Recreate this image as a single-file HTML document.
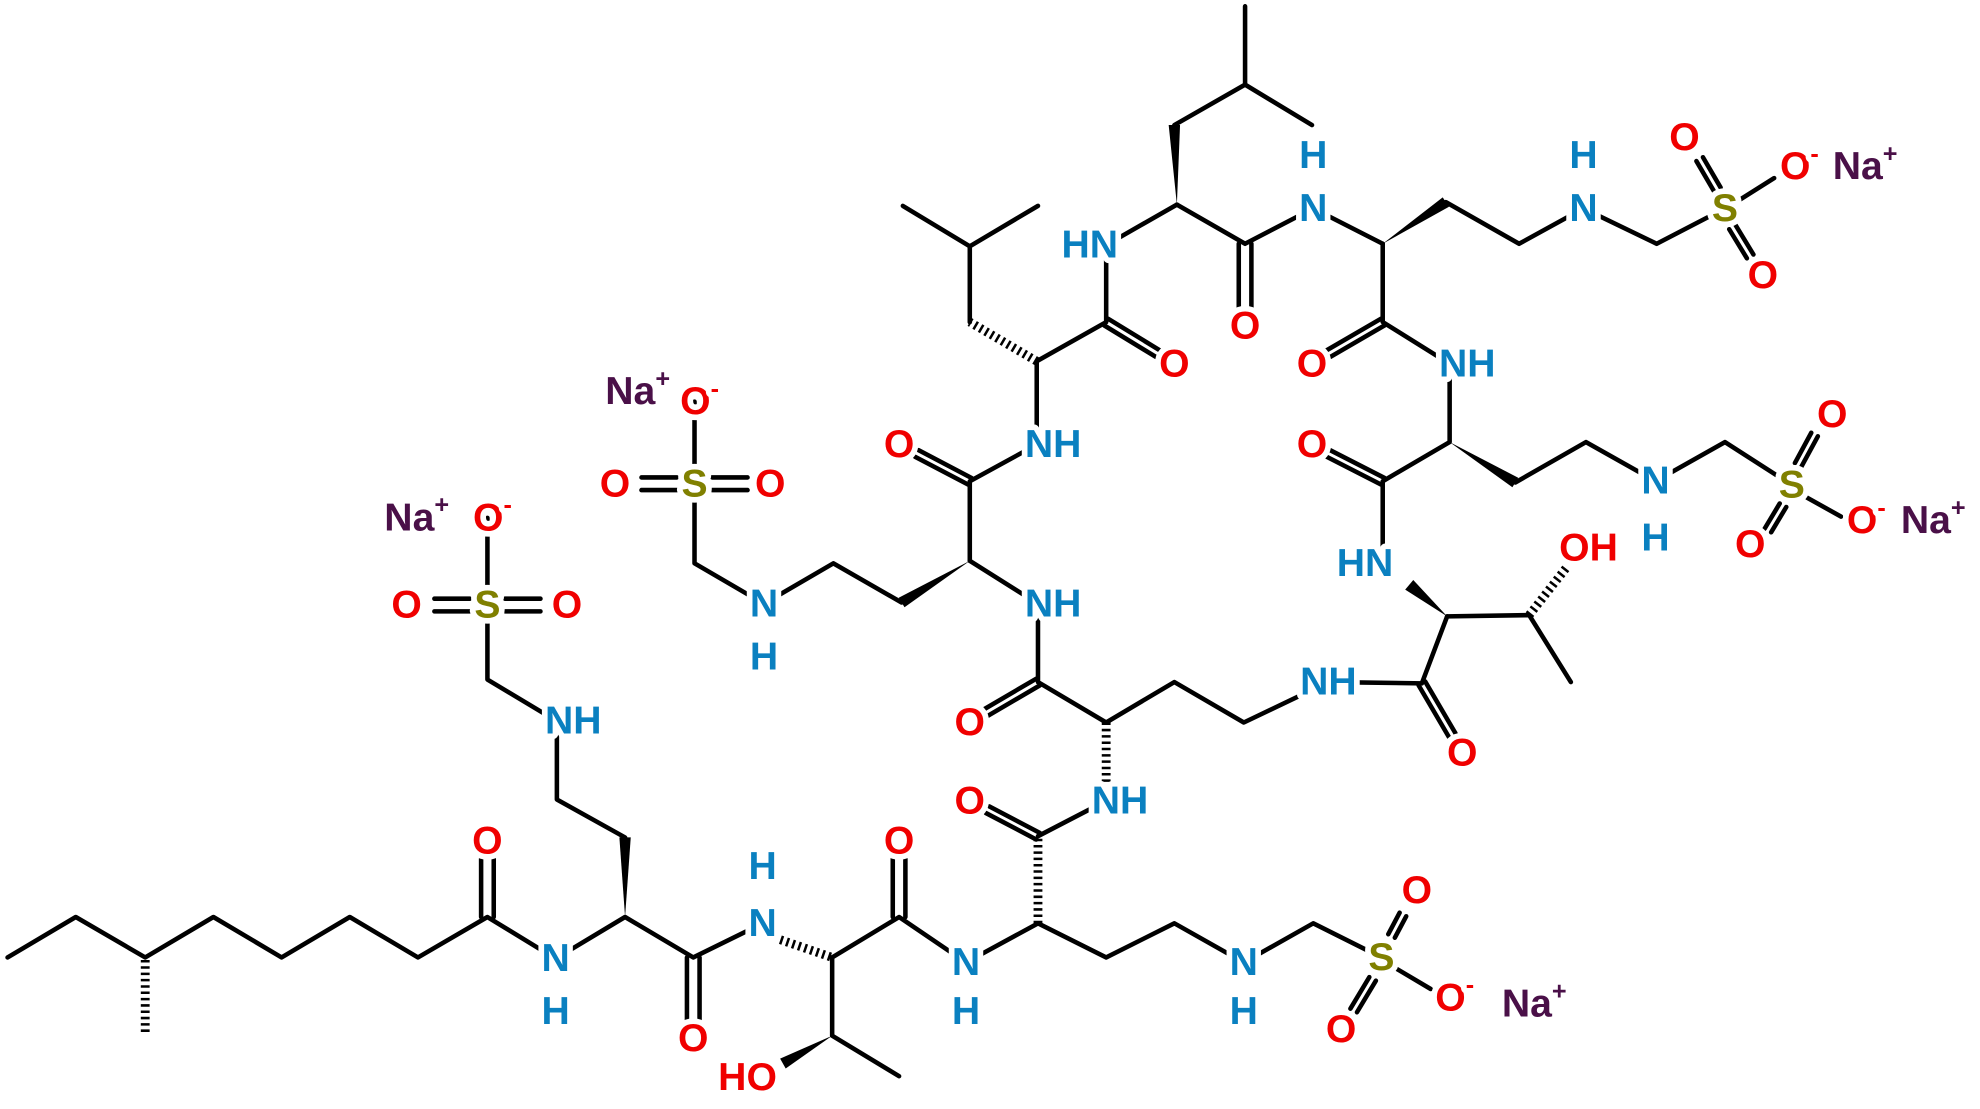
<!DOCTYPE html>
<html><head><meta charset="utf-8"><style>
html,body{margin:0;padding:0;background:#fff;}
svg{display:block;}
text{font-family:"Liberation Sans",sans-serif;font-weight:bold;font-size:31px;text-anchor:middle;dominant-baseline:central;paint-order:stroke;stroke:#fff;stroke-width:9px;stroke-linejoin:round;}
.o{fill:#f00000}.n{fill:#0a80c0}.s{fill:#808000}.na{fill:#4a1048}
tspan.sup{font-size:20px}
</style></head><body>
<svg width="1980" height="1109" viewBox="0 0 1568 878" preserveAspectRatio="none" xmlns="http://www.w3.org/2000/svg">
<g stroke="#000" stroke-width="3.6" fill="none" stroke-linecap="round" stroke-linejoin="round">
<polyline points="6,758 60,726 115,758 169,726 223,758 277,726 331,758 386,726 440,759 495,726 549,758 604,731"/>
<polyline points="495,663 441,633 441,571 386,538 386,410"/>
<polyline points="659,758 712,726 765,762 822,731 876,758 930,731 985,762 1040,731 1094,758"/>
<polyline points="659,758 659,820 712,852"/>
<line x1="1106" y1="767" x2="1133" y2="783"/>
<line x1="822" y1="662" x2="876" y2="634"/>
<polyline points="876,572 822,540 822,478 768,444"/>
<polyline points="714,477 660,446 605,478 550,446 550,318"/>
<polyline points="768,444 768,381 821,352 821,286"/>
<polyline points="768,255 768,195"/>
<polyline points="715,163 768,195 822,163"/>
<polyline points="821,286 876,255 876,194 932,162"/>
<polyline points="930,99 986,67 986,5"/>
<line x1="986" y1="67" x2="1039" y2="99"/>
<polyline points="932,162 986,193 1040,165 1095,193"/>
<polyline points="1145,160 1203,193 1254,165 1312,193 1366,165"/>
<line x1="1378" y1="158" x2="1405" y2="141"/>
<polyline points="1095,193 1095,255 1148,288 1148,350 1095,381 1095,442"/>
<polyline points="1200,382 1256,350 1311,381 1366,350 1419,384"/>
<line x1="1431" y1="394" x2="1458" y2="409"/>
<polyline points="1146,488 1126,541 1052,540 985,572 930,540 876,572"/>
<polyline points="1146,488 1211,487 1244,540"/>
<line x1="381" y1="726" x2="381" y2="680"/><line x1="391" y1="726" x2="391" y2="680"/>
<line x1="544" y1="758" x2="544" y2="810"/><line x1="554" y1="758" x2="554" y2="810"/>
<line x1="707" y1="726" x2="707" y2="680"/><line x1="717" y1="726" x2="717" y2="680"/>
<line x1="823.4" y1="659.4" x2="783.4" y2="638.4"/><line x1="820.6" y1="664.6" x2="780.6" y2="643.6"/>
<line x1="823.5" y1="542.6" x2="782.5" y2="566.6"/><line x1="820.5" y1="537.4" x2="779.5" y2="561.4"/>
<line x1="769.4" y1="378.4" x2="727.4" y2="356.4"/><line x1="766.6" y1="383.6" x2="724.6" y2="361.6"/>
<line x1="874.4" y1="257.6" x2="915.4" y2="282.6"/><line x1="877.6" y1="252.4" x2="918.6" y2="277.4"/>
<line x1="981" y1="193" x2="981" y2="245"/><line x1="991" y1="193" x2="991" y2="245"/>
<line x1="1096.5" y1="257.6" x2="1053.5" y2="282.6"/><line x1="1093.5" y1="252.4" x2="1050.5" y2="277.4"/>
<line x1="1096.4" y1="378.4" x2="1053.4" y2="356.4"/><line x1="1093.6" y1="383.6" x2="1050.6" y2="361.6"/>
<line x1="1123.4" y1="542.5" x2="1147.4" y2="583.5"/><line x1="1128.6" y1="539.5" x2="1152.6" y2="580.5"/>
<line x1="1104.6" y1="742.4" x2="1113.6" y2="725.4"/><line x1="1099.4" y1="739.6" x2="1108.4" y2="722.6"/>
<line x1="1089.6" y1="776.4" x2="1074.6" y2="801.4"/><line x1="1084.4" y1="773.6" x2="1069.4" y2="798.6"/>
<line x1="1362.6" y1="148.5" x2="1348.6" y2="124.5"/><line x1="1357.4" y1="151.5" x2="1343.4" y2="127.5"/>
<line x1="1374.6" y1="178.5" x2="1388.6" y2="201.5"/><line x1="1369.4" y1="181.5" x2="1383.4" y2="204.5"/>
<line x1="1426.6" y1="369.4" x2="1439.6" y2="345.4"/><line x1="1421.4" y1="366.6" x2="1434.4" y2="342.6"/>
<line x1="1414.6" y1="401.4" x2="1402.6" y2="421.4"/><line x1="1409.4" y1="398.6" x2="1397.4" y2="418.6"/>
<line x1="344" y1="474" x2="372" y2="474"/><line x1="344" y1="484" x2="372" y2="484"/>
<line x1="400" y1="474" x2="428" y2="474"/><line x1="400" y1="484" x2="428" y2="484"/>
<line x1="508" y1="378" x2="536" y2="378"/><line x1="508" y1="388" x2="536" y2="388"/>
<line x1="564" y1="378" x2="592" y2="378"/><line x1="564" y1="388" x2="592" y2="388"/>
</g>
<g stroke="#000" stroke-width="7" stroke-dasharray="2 3" fill="none">
<line x1="115" y1="760" x2="115" y2="820"/>
<line x1="618" y1="744" x2="659" y2="758"/>
<line x1="822" y1="731" x2="822" y2="664"/>
<line x1="876" y1="572" x2="876" y2="620"/>
<line x1="821" y1="286" x2="768" y2="255"/>
<line x1="1211" y1="487" x2="1240" y2="450"/>
</g>
<g fill="#000">
<polygon points="495,726 490.5,663 499.5,663"/>
<polygon points="659,820 622.2,845.9 617.8,838.1"/>
<polygon points="768,444 716.3,480.8 711.7,473.2"/>
<polygon points="932,162 925.5,99 934.5,99"/>
<polygon points="1095,193 1147.5,163.7 1142.5,156.3"/>
<polygon points="1148,350 1197.7,385.8 1202.3,378.2"/>
<polygon points="1146,488 1119.2,459.2 1112.8,466.8"/>
</g>
<g class="o">
<text x="386" y="666" class="o">O</text><text x="549" y="822" class="o">O</text><text x="712" y="666" class="o">O</text>
<text x="768" y="634" class="o">O</text><text x="768" y="572" class="o">O</text><text x="712" y="352" class="o">O</text>
<text x="930" y="288" class="o">O</text><text x="986" y="258" class="o">O</text><text x="1039" y="288" class="o">O</text>
<text x="1039" y="352" class="o">O</text><text x="1158" y="596" class="o">O</text><text x="1062" y="815" class="o">O</text>
<text x="1122" y="705" class="o">O</text><text x="1334" y="109" class="o">O</text><text x="1396" y="218" class="o">O</text>
<text x="1451" y="328" class="o">O</text><text x="1386" y="431" class="o">O</text><text x="322" y="479" class="o">O</text>
<text x="449" y="479" class="o">O</text><text x="487" y="383" class="o">O</text><text x="610" y="383" class="o">O</text>
<text x="390" y="410" class="o">O<tspan class="sup" dy="-10">-</tspan></text>
<text x="554" y="318" class="o">O<tspan class="sup" dy="-10">-</tspan></text>
<text x="1152" y="790" class="o">O<tspan class="sup" dy="-10">-</tspan></text>
<text x="1425" y="132" class="o">O<tspan class="sup" dy="-10">-</tspan></text>
<text x="1478" y="412" class="o">O<tspan class="sup" dy="-10">-</tspan></text>
<text x="592" y="853" class="o">HO</text><text x="1258" y="434" class="o">OH</text>
</g>
<text x="330" y="410" class="na">Na<tspan class="sup" dy="-10">+</tspan></text>
<text x="505" y="310" class="na">Na<tspan class="sup" dy="-10">+</tspan></text>
<text x="1215" y="795" class="na">Na<tspan class="sup" dy="-10">+</tspan></text>
<text x="1477" y="132" class="na">Na<tspan class="sup" dy="-10">+</tspan></text>
<text x="1531" y="412" class="na">Na<tspan class="sup" dy="-10">+</tspan></text>
<text x="386" y="479" class="s">S</text><text x="550" y="383" class="s">S</text><text x="1094" y="758" class="s">S</text>
<text x="1366" y="165" class="s">S</text><text x="1419" y="384" class="s">S</text>
<text x="440" y="759" class="n">N</text><text x="440" y="801" class="n">H</text>
<text x="604" y="731" class="n">N</text><text x="604" y="686" class="n">H</text>
<text x="765" y="762" class="n">N</text><text x="765" y="801" class="n">H</text>
<text x="985" y="762" class="n">N</text><text x="985" y="801" class="n">H</text>
<text x="605" y="478" class="n">N</text><text x="605" y="520" class="n">H</text>
<text x="1040" y="165" class="n">N</text><text x="1040" y="123" class="n">H</text>
<text x="1254" y="165" class="n">N</text><text x="1254" y="123" class="n">H</text>
<text x="1311" y="381" class="n">N</text><text x="1311" y="426" class="n">H</text>
<text x="454" y="571" class="n">NH</text><text x="887" y="634" class="n">NH</text>
<text x="834" y="478" class="n">NH</text><text x="834" y="352" class="n">NH</text>
<text x="1162" y="288" class="n">NH</text><text x="1052" y="540" class="n">NH</text>
<text x="863" y="194" class="n">HN</text><text x="1081" y="446" class="n">HN</text>
</svg>
</body></html>
